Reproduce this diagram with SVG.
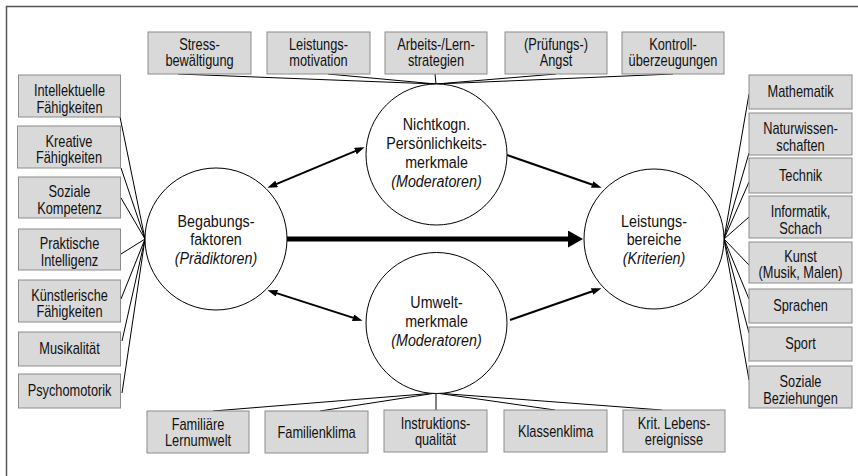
<svg xmlns="http://www.w3.org/2000/svg" width="858" height="476" viewBox="0 0 858 476">
  <style>
    text { font-family: "Liberation Sans", Arial, sans-serif; fill: #111; text-anchor: middle;
           transform-box: fill-box; transform-origin: center; }
    .box rect { fill: #d9d9d9; stroke: #8c8c8c; stroke-width: 1; }
    .box text { font-size: 16px; transform: scaleX(0.8); }
    .hub circle { fill: #fff; stroke: #000; stroke-width: 1; }
    .hub text { font-size: 17px; transform: scaleX(0.84); }
    .hub .it { font-style: italic; }
    .fan line { stroke: #000; stroke-width: 1; }
    .arr { stroke: #000; fill: none; }
    .frame { stroke: #555; stroke-width: 1.5; fill: none; }
  </style>
  <defs>
    <marker id="head" viewBox="0 0 10 7" refX="0.5" refY="3.5" markerWidth="10" markerHeight="7" markerUnits="userSpaceOnUse" orient="auto-start-reverse">
      <path d="M0,0 L10,3.5 L0,7 z" fill="#000"/>
    </marker>
    <marker id="bighead" viewBox="0 0 15 17" refX="0.5" refY="8.5" markerWidth="15" markerHeight="17" markerUnits="userSpaceOnUse" orient="auto">
      <path d="M0,0 L15,8.5 L0,17 z" fill="#000"/>
    </marker>
  </defs>

  <rect width="858" height="476" fill="#fff"/>
  <path class="frame" d="M6.5,476 V6.5 H858"/>

  <!-- connectors -->
  <g id="connectors">
    <g class="fan">
      <!-- top boxes to personality circle -->
      <line x1="178" y1="74" x2="436" y2="84"/>
      <line x1="328" y1="74" x2="436" y2="84"/>
      <line x1="435" y1="74" x2="436" y2="84"/>
      <line x1="556" y1="74" x2="436" y2="84"/>
      <line x1="673" y1="74" x2="436" y2="84"/>
      <!-- left boxes to talent circle -->
      <line x1="120" y1="117" x2="145" y2="239"/>
      <line x1="121" y1="168" x2="145" y2="239"/>
      <line x1="121" y1="198" x2="145" y2="239"/>
      <line x1="121" y1="254" x2="145" y2="239"/>
      <line x1="121" y1="299" x2="145" y2="239"/>
      <line x1="122" y1="341" x2="145" y2="239"/>
      <line x1="122" y1="393" x2="145" y2="239"/>
      <!-- performance circle to right boxes -->
      <line x1="724" y1="239" x2="749" y2="94"/>
      <line x1="724" y1="239" x2="749" y2="153"/>
      <line x1="724" y1="239" x2="749" y2="182"/>
      <line x1="724" y1="239" x2="749" y2="217"/>
      <line x1="724" y1="239" x2="749" y2="265"/>
      <line x1="724" y1="239" x2="749" y2="299"/>
      <line x1="724" y1="239" x2="749" y2="333"/>
      <line x1="724" y1="239" x2="749" y2="380"/>
      <!-- environment circle to bottom boxes -->
      <line x1="436" y1="393" x2="213" y2="411"/>
      <line x1="436" y1="393" x2="320" y2="411"/>
      <line x1="436" y1="393" x2="436" y2="410"/>
      <line x1="436" y1="393" x2="555" y2="410"/>
      <line x1="436" y1="393" x2="662" y2="410"/>
    </g>
    <!-- arrows between circles -->
    <line class="arr" x1="276.2" y1="184.1" x2="355.8" y2="150.9" stroke-width="2" marker-start="url(#head)" marker-end="url(#head)"/>
    <line class="arr" x1="276.5" y1="293.1" x2="353.5" y2="317.9" stroke-width="2" marker-start="url(#head)" marker-end="url(#head)"/>
    <line class="arr" x1="507" y1="155" x2="592.6" y2="184.7" stroke-width="2" marker-end="url(#head)"/>
    <line class="arr" x1="510" y1="320" x2="592.5" y2="291.3" stroke-width="2" marker-end="url(#head)"/>
    <line class="arr" x1="287" y1="239" x2="568.5" y2="239" stroke-width="5" marker-end="url(#bighead)"/>
  </g>

  <!-- central circles -->
  <g id="begabung" class="hub">
    <circle cx="216" cy="239" r="71"/>
    <text x="216" y="227">Begabungs-</text>
    <text x="216" y="245.5">faktoren</text>
    <text x="216" y="264" class="it">(Prädiktoren)</text>
  </g>
  <g id="persoenlichkeit" class="hub">
    <circle cx="436.5" cy="154.5" r="70.5"/>
    <text x="436.5" y="130">Nichtkogn.</text>
    <text x="436.5" y="149">Persönlichkeits-</text>
    <text x="436.5" y="168">merkmale</text>
    <text x="436.5" y="187" class="it">(Moderatoren)</text>
  </g>
  <g id="umwelt" class="hub">
    <circle cx="436.5" cy="323" r="70.5"/>
    <text x="436.5" y="308">Umwelt-</text>
    <text x="436.5" y="327">merkmale</text>
    <text x="436.5" y="346" class="it">(Moderatoren)</text>
  </g>
  <g id="leistung" class="hub">
    <circle cx="654" cy="239" r="70"/>
    <text x="654" y="227">Leistungs-</text>
    <text x="654" y="245.5">bereiche</text>
    <text x="654" y="264" class="it">(Kriterien)</text>
  </g>

  <!-- top row: personality traits -->
  <g id="stress" class="box"><rect x="148" y="32" width="103" height="42"/><text x="199.5" y="50">Stress-</text><text x="199.5" y="66">bewältigung</text></g>
  <g id="motivation" class="box"><rect x="267" y="32" width="103" height="42"/><text x="318.5" y="50">Leistungs-</text><text x="318.5" y="66">motivation</text></g>
  <g id="strategien" class="box"><rect x="385" y="32" width="102" height="42"/><text x="436" y="50">Arbeits-/Lern-</text><text x="436" y="66">strategien</text></g>
  <g id="angst" class="box"><rect x="505" y="32" width="102" height="42"/><text x="556" y="50">(Prüfungs-)</text><text x="556" y="66">Angst</text></g>
  <g id="kontrolle" class="box"><rect x="622" y="32" width="102" height="42"/><text x="673" y="50">Kontroll-</text><text x="673" y="66">überzeugungen</text></g>

  <!-- left column: talent factors -->
  <g id="intellektuell" class="box"><rect x="18.5" y="75" width="102" height="42"/><text x="69.5" y="96.5">Intellektuelle</text><text x="69.5" y="113">Fähigkeiten</text></g>
  <g id="kreativ" class="box"><rect x="17.5" y="126" width="103" height="42"/><text x="69" y="147">Kreative</text><text x="69" y="163.5">Fähigkeiten</text></g>
  <g id="sozial" class="box"><rect x="18.5" y="177" width="102" height="41"/><text x="69.5" y="197.5">Soziale</text><text x="69.5" y="214">Kompetenz</text></g>
  <g id="praktisch" class="box"><rect x="18.5" y="229" width="102" height="41"/><text x="69.5" y="249.5">Praktische</text><text x="69.5" y="266">Intelligenz</text></g>
  <g id="kuenstlerisch" class="box"><rect x="18.5" y="280" width="102" height="42"/><text x="69.5" y="301">Künstlerische</text><text x="69.5" y="317.5">Fähigkeiten</text></g>
  <g id="musikalitaet" class="box"><rect x="18.5" y="332" width="102" height="34"/><text x="69.5" y="354.5">Musikalität</text></g>
  <g id="psychomotorik" class="box"><rect x="18.5" y="374" width="102" height="34"/><text x="69.5" y="396.5">Psychomotorik</text></g>

  <!-- right column: performance domains -->
  <g id="mathematik" class="box"><rect x="749" y="75" width="103" height="34"/><text x="800.5" y="97.5">Mathematik</text></g>
  <g id="naturwissenschaften" class="box"><rect x="749" y="113" width="103" height="42"/><text x="800.5" y="134.5">Naturwissen-</text><text x="800.5" y="151">schaften</text></g>
  <g id="technik" class="box"><rect x="749" y="158" width="103" height="35"/><text x="800.5" y="181">Technik</text></g>
  <g id="informatik" class="box"><rect x="749" y="196" width="103" height="42"/><text x="800.5" y="217.5">Informatik,</text><text x="800.5" y="234">Schach</text></g>
  <g id="kunst" class="box"><rect x="749" y="242" width="103" height="41"/><text x="800.5" y="262">Kunst</text><text x="800.5" y="278.5">(Musik, Malen)</text></g>
  <g id="sprachen" class="box"><rect x="749" y="289" width="103" height="34"/><text x="800.5" y="311.5">Sprachen</text></g>
  <g id="sport" class="box"><rect x="749" y="327" width="103" height="34"/><text x="800.5" y="349.5">Sport</text></g>
  <g id="beziehungen" class="box"><rect x="749" y="366" width="103" height="42"/><text x="800.5" y="387.5">Soziale</text><text x="800.5" y="404">Beziehungen</text></g>

  <!-- bottom row: environmental factors -->
  <g id="lernumwelt" class="box"><rect x="147" y="411" width="102" height="42"/><text x="198" y="430">Familiäre</text><text x="198" y="446.5">Lernumwelt</text></g>
  <g id="familienklima" class="box"><rect x="265" y="411" width="103" height="42"/><text x="316.5" y="438">Familienklima</text></g>
  <g id="instruktion" class="box"><rect x="384" y="410" width="103" height="42"/><text x="435.5" y="429">Instruktions-</text><text x="435.5" y="445.5">qualität</text></g>
  <g id="klassenklima" class="box"><rect x="504" y="410" width="103" height="42"/><text x="555.5" y="437">Klassenklima</text></g>
  <g id="lebensereignisse" class="box"><rect x="623" y="410" width="102" height="42"/><text x="674" y="429">Krit. Lebens-</text><text x="674" y="445.5">ereignisse</text></g>
</svg>
